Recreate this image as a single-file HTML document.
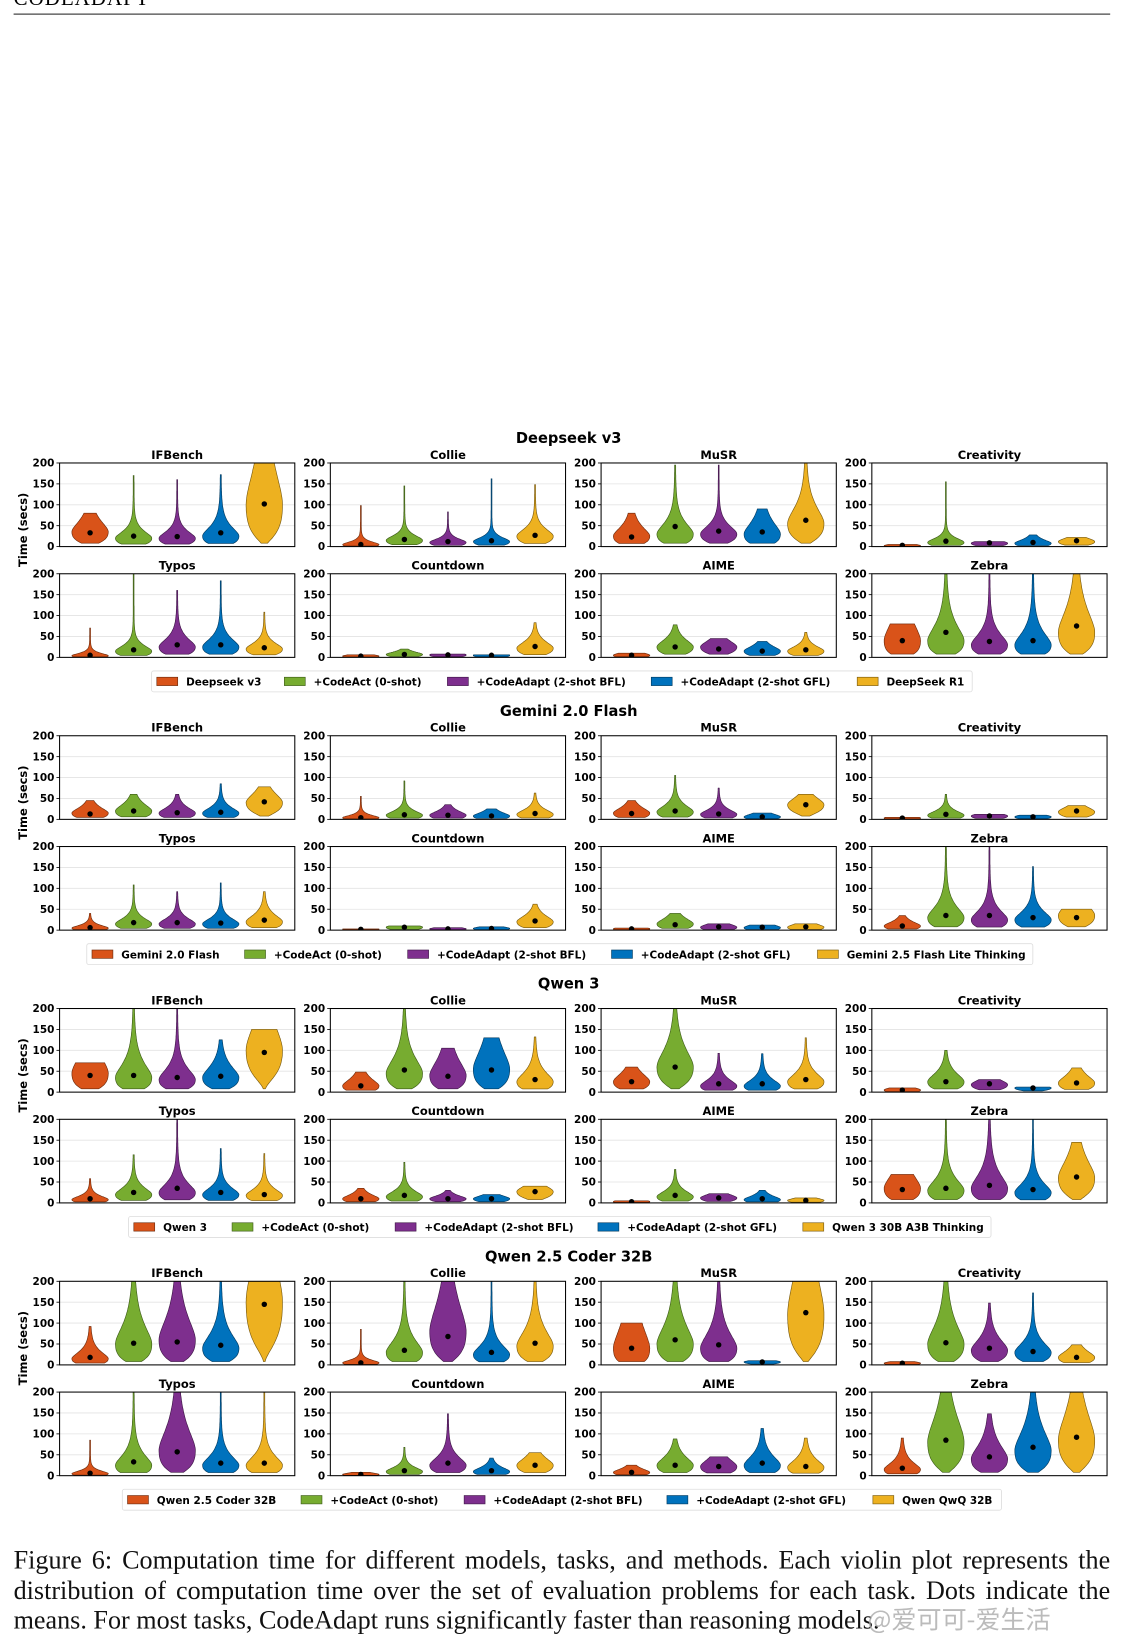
<!DOCTYPE html>
<html><head><meta charset="utf-8">
<style>
html,body{margin:0;padding:0;background:#fff;width:1129px;height:1645px;overflow:hidden}
#wrap{position:absolute;left:0;top:0;width:1080px;height:1574px;transform:scale(1.04537,1.0451);transform-origin:0 0}
.hdr{position:absolute;left:13px;top:-12px;font:20px "Liberation Serif",serif;letter-spacing:1px}
.rule{position:absolute;left:13px;top:13px;width:1049px;height:1px;background:#222}
.cap{position:absolute;left:13px;width:1049px;font:25px "Liberation Serif",serif;color:#111;text-align:justify;text-align-last:justify;white-space:nowrap;line-height:28px}
.wm{position:absolute;left:830px;top:1530px;font:24px "Noto Sans CJK SC",sans-serif;color:rgba(170,170,170,0.8)}
svg text{font-family:"DejaVu Sans",sans-serif;font-weight:bold}
</style></head><body>
<div id="wrap">
<div class="hdr">CODEADAPT</div>
<div class="rule"></div>
<svg id="chart" width="1080" height="1474" style="position:absolute;left:0;top:0"></svg>
<div class="cap" style="top:1480px">Figure 6: Computation time for different models, tasks, and methods. Each violin plot represents the</div>
<div class="cap" style="top:1509px">distribution of computation time over the set of evaluation problems for each task. Dots indicate the</div>
<div class="cap" style="top:1537px;text-align-last:left">means. For most tasks, CodeAdapt runs significantly faster than reasoning models.</div>
<div class="wm">@爱可可-爱生活</div>
</div>
<script>
const tasks=["IFBench","Collie","MuSR","Creativity","Typos","Countdown","AIME","Zebra"];
const blockTitles=["Deepseek v3","Gemini 2.0 Flash","Qwen 3","Qwen 2.5 Coder 32B"];
const legendLabels=[
["Deepseek v3","+CodeAct (0-shot)","+CodeAdapt (2-shot BFL)","+CodeAdapt (2-shot GFL)","DeepSeek R1"],
["Gemini 2.0 Flash","+CodeAct (0-shot)","+CodeAdapt (2-shot BFL)","+CodeAdapt (2-shot GFL)","Gemini 2.5 Flash Lite Thinking"],
["Qwen 3","+CodeAct (0-shot)","+CodeAdapt (2-shot BFL)","+CodeAdapt (2-shot GFL)","Qwen 3 30B A3B Thinking"],
["Qwen 2.5 Coder 32B","+CodeAct (0-shot)","+CodeAdapt (2-shot BFL)","+CodeAdapt (2-shot GFL)","Qwen QwQ 32B"]];
const yTicks=[0,50,100,150,200];
// each violin: [max, mean, peak, sigma]
const deepseek=[
[[80,33,35,0.5],[170,25,20,0.5],[160,24,20,0.5],[172,33,25,0.55],[260,102,100,0.6]],
[[98,5,5,0.5],[145,17,15,0.45],[83,12,10,0.45],[162,14,12,0.45],[148,27,25,0.45]],
[[80,23,25,0.55],[195,48,30,0.55],[195,37,30,0.45],[90,35,30,0.6],[200,63,55,0.5]],
[[5,3,2,0.5],[155,13,10,0.5],[12,9,8,0.4],[28,10,8,0.5],[22,14,12,0.4]],
[[70,5,4,0.5],[200,18,15,0.5],[160,30,25,0.5],[183,30,25,0.5],[108,23,20,0.45]],
[[6,3,3,0.4],[20,7,7,0.4],[8,6,6,0.4],[6,5,5,0.4],[83,26,22,0.45]],
[[10,5,5,0.5],[78,25,25,0.45],[45,20,25,0.4],[38,15,15,0.45],[60,18,15,0.45]],
[[80,40,40,0.7],[200,60,40,0.6],[200,38,30,0.55],[210,40,30,0.6],[240,75,60,0.6]]];
const gemini=[
[[45,13,15,0.5],[60,20,20,0.5],[60,16,15,0.5],[85,17,15,0.5],[78,42,40,0.4]],
[[55,4,4,0.5],[92,11,10,0.5],[35,10,10,0.5],[25,8,8,0.5],[63,14,12,0.5]],
[[45,14,15,0.5],[105,20,18,0.5],[75,13,12,0.5],[15,6,6,0.5],[60,35,35,0.35]],
[[5,3,3,0.5],[60,12,10,0.5],[12,8,8,0.4],[10,6,6,0.4],[33,20,18,0.4]],
[[40,6,5,0.5],[108,18,15,0.5],[92,18,15,0.5],[113,17,15,0.5],[92,24,20,0.5]],
[[3,2,2,0.5],[10,7,7,0.4],[6,3,3,0.4],[8,4,4,0.4],[62,22,20,0.45]],
[[5,3,3,0.5],[40,13,15,0.5],[15,8,7,0.5],[12,7,6,0.5],[15,8,7,0.5]],
[[35,10,10,0.5],[200,35,30,0.55],[200,35,25,0.55],[152,30,25,0.5],[50,30,35,0.5]]];
const qwen3=[
[[70,40,45,0.6],[200,40,35,0.6],[200,35,30,0.55],[125,38,35,0.5],[150,95,100,0.45]],
[[48,15,15,0.6],[200,53,45,0.55],[105,38,40,0.6],[130,53,55,0.6],[132,30,25,0.55]],
[[60,25,25,0.5],[200,60,60,0.5],[93,20,15,0.55],[92,20,15,0.55],[130,30,25,0.5]],
[[10,5,5,0.5],[100,25,25,0.5],[30,20,18,0.4],[12,10,10,0.3],[58,22,22,0.5]],
[[58,10,8,0.5],[115,25,20,0.5],[200,35,25,0.55],[130,25,20,0.5],[118,20,18,0.5]],
[[35,10,10,0.5],[97,18,15,0.5],[30,10,10,0.4],[20,10,10,0.4],[40,27,27,0.35]],
[[5,3,3,0.5],[80,18,15,0.5],[22,12,12,0.4],[30,10,8,0.5],[12,6,6,0.4]],
[[68,32,35,0.6],[200,35,30,0.55],[200,42,35,0.6],[200,32,25,0.55],[145,62,60,0.5]]];
const qwenCoder=[
[[92,18,15,0.6],[240,52,50,0.6],[250,55,60,0.6],[230,47,40,0.55],[260,145,150,0.5]],
[[85,5,5,0.5],[240,35,30,0.6],[260,68,80,0.6],[220,30,25,0.55],[240,52,45,0.55]],
[[100,40,40,0.8],[220,60,50,0.6],[200,48,40,0.6],[10,7,7,0.3],[260,125,120,0.6]],
[[8,4,4,0.4],[220,53,50,0.6],[148,40,35,0.5],[172,32,30,0.5],[48,18,18,0.5]],
[[85,6,5,0.5],[220,33,25,0.6],[260,57,60,0.6],[200,30,25,0.55],[200,30,25,0.55]],
[[8,3,3,0.4],[68,12,10,0.5],[148,30,25,0.5],[42,12,10,0.5],[55,25,25,0.45]],
[[25,8,8,0.5],[88,25,25,0.5],[45,22,22,0.5],[113,30,25,0.55],[90,22,20,0.55]],
[[90,18,15,0.6],[230,85,80,0.55],[148,45,40,0.55],[230,68,60,0.55],[230,92,85,0.55]]];
const allData=[deepseek,gemini,qwen3,qwenCoder];

const NS="http://www.w3.org/2000/svg";
const svg=document.getElementById('chart');
const colors=["#d95319","#77ac30","#7e2f8e","#0072bd","#edb120"];
const edges=["#6b2a0c","#3c5a18","#3e1746","#00395e","#76580f"];
const colX=[57,316,575,834], AW=225, AH=80;
const blockTop=[419,680,941,1202];
const legX=[[145,930,150,272,428,623,820],[83,988,88,234,390,585,782],[123,948,128,222,378,572,768],[117,958,122,288,444,638,835]];
function mk(tag,attrs,parent){const e=document.createElementNS(NS,tag);for(const k in attrs)e.setAttribute(k,attrs[k]);(parent||svg).appendChild(e);return e;}
function txt(s,x,y,size,anchor,parent){const t=mk('text',{x:x,y:y,'font-size':size,'text-anchor':anchor||'middle',fill:'#000'},parent);t.textContent=s;return t;}
let clipId=0;
allData.forEach((block,b)=>{
  const bt=blockTop[b];
  const g=mk('g',{});
  
  
  const title=txt(blockTitles[b],544,bt+5,14,'middle',g);
  
  
  const yl=txt('Time (secs)',0,0,11,'middle',g);
  yl.setAttribute('transform','translate(26,'+(bt+88)+') rotate(-90)');
  
  
  block.forEach((sub,k)=>{
    const row=Math.floor(k/4), col=k%4;
    const L=colX[col], T=bt+24+row*106;
    const ys=v=>T+AH-v/200*AH;
    const xs=i=>L+(i+0.7)/5.4*AW;
    const sg=mk('g',{},g);
    
    
    const st=txt(tasks[k],L+AW/2,T-4,11,'middle',sg);
    
    
    yTicks.forEach(v=>{
      if(v>0&&v<200){const gl=mk('line',{x1:L,x2:L+AW,y1:ys(v),y2:ys(v),stroke:'#e3e3e3','stroke-width':0.8},sg);
        }
      mk('line',{x1:L-3,x2:L,y1:ys(v),y2:ys(v),stroke:'#000','stroke-width':0.8},sg);
      const tl=txt(String(v),L-5,ys(v)+3.5,10,'end',sg);
      
      
    });
    const cid='c'+(clipId++);
    const cp=mk('clipPath',{id:cid},sg);mk('rect',{x:L,y:T,width:AW,height:AH},cp);
    const vg=mk('g',{'clip-path':'url(#'+cid+')'},sg);
    sub.forEach((d,i)=>{
      const [mx,mean,peak,sig]=d;
      const lo=Math.min(Math.max(1,Math.min(peak*0.3,8)),mx*0.5), hi=Math.min(mx,262);
      const f=t=>{const z=(Math.log(t+5)-Math.log(peak+5))/(t<peak?sig*1.8:sig);return Math.exp(-0.5*z*z);};
      const N=60;let pts=[],fm=0;
      for(let j=0;j<=N;j++){const t=lo+(hi-lo)*j/N;const v=f(t);pts.push([t,v]);fm=Math.max(fm,v);}
      const cx=xs(i);
      let right=pts.map(p=>[cx+17*p[1]/fm+0.4,ys(p[0])]);
      let left=pts.slice().reverse().map(p=>[cx-17*p[1]/fm-0.4,ys(p[0])]);
      const dstr='M'+right.concat(left).map(p=>p[0].toFixed(1)+','+p[1].toFixed(1)).join('L')+'Z';
      const v=mk('path',{d:dstr,fill:colors[i],stroke:edges[i],'stroke-width':0.6},vg);
      
      
      const dot=mk('circle',{cx:cx,cy:ys(mean),r:2.6,fill:'#000'},vg);
      
      
    });
    mk('rect',{x:L,y:T,width:AW,height:AH,fill:'none',stroke:'#000','stroke-width':1},sg);
  });
  const lx=legX[b], ly=bt+233;
  const lg=mk('g',{},g);
  
  
  mk('rect',{x:lx[0],y:ly-10,width:lx[1]-lx[0],height:20,fill:'#fff',stroke:'#ddd','stroke-width':0.8,rx:2},lg);
  legendLabels[b].forEach((lab,i)=>{
    const x=lx[2+i];
    const e=mk('g',{},lg);
    
    
    mk('rect',{x:x,y:ly-4,width:20,height:8,fill:colors[i],stroke:edges[i],'stroke-width':0.6},e);
    txt(lab,x+28,ly+4,10,'start',e);
  });
});
</script>
</body></html>
